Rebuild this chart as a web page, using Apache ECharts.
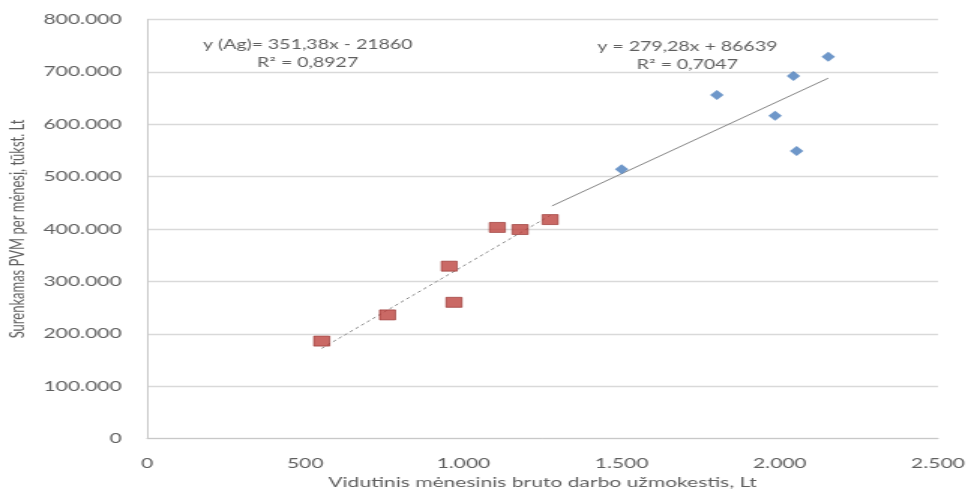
<!DOCTYPE html>
<html>
<head>
<meta charset="utf-8">
<script src="https://cdn.jsdelivr.net/npm/echarts@6/dist/echarts.min.js"></script>
<style>
  html, body { margin: 0; padding: 0; background: #fff; overflow: hidden; }
  #wrap { width: 968px; height: 490px; overflow: hidden; }
  /* the chart is laid out narrow and widened horizontally */
  #chart { width: 645px; height: 490px; transform-origin: 0 0; transform: scaleX(1.5008); }
</style>
</head>
<body>
<div id="wrap"><div id="chart"></div></div>
<script>
// Average monthly gross wage (Lt) vs. VAT collected per month (thousand Lt)
const agX = [552, 760, 955, 970, 1107, 1179, 1274];
const agY = [186000, 236000, 329000, 260000, 403000, 399000, 418000];
const otherX = [1500, 1801, 1985, 2043, 2053, 2153];
const otherY = [514000, 656000, 616000, 692000, 549000, 729000];

// linear trend lines: [slope, intercept] and x range
const agTrend = [351.38, -21860];
const agTrendRange = [552, 1274];
const otherTrend = [279.28, 86639];
const otherTrendRange = [1280, 2153];

const agLabel = ['y (Ag)= 351,38x - 21860', 'R² = 0,8927'];
const otherLabel = ['y = 279,28x + 86639', 'R² = 0,7047'];

const xTicks = { min: 0, max: 2500, step: 500 };
const yTicks = { min: 0, max: 800000, step: 100000 };

const xName = 'Vidutinis mėnesinis bruto darbo užmokestis, Lt';
const yName = 'Surenkamas PVM per mėnesį, tūkst. Lt';

const dotted = v => String(v).replace(/\B(?=(\d{3})+(?!\d))/g, '.');
const pairs = (xs, ys) => xs.map((x, i) => [x, ys[i]]);
const trend = (c, r) => r.map(x => [x, c[0] * x + c[1]]);

const FONT = 'Lato';
const GREY = '#5f5f5f';

const chart = echarts.init(document.getElementById('chart'));
chart.setOption({
  animation: false,
  backgroundColor: '#ffffff',
  grid: { left: 98, right: 20, top: 19.5, bottom: 51.5, containLabel: false, outerBoundsMode: 'none' },
  xAxis: {
    type: 'value',
    min: xTicks.min, max: xTicks.max, interval: xTicks.step,
    name: xName, nameLocation: 'middle', nameGap: 32,
    nameTextStyle: { color: GREY, fontFamily: FONT, fontSize: 14 },
    axisLine: { show: true, lineStyle: { color: '#c8c8c8', width: 1 } },
    axisTick: { show: false },
    axisLabel: { color: GREY, fontFamily: FONT, fontSize: 14, margin: 18, formatter: dotted },
    splitLine: { show: false }
  },
  yAxis: {
    type: 'value',
    min: yTicks.min, max: yTicks.max, interval: yTicks.step,
    name: yName, nameLocation: 'middle', nameGap: 80,
    nameTextStyle: { color: GREY, fontFamily: FONT, fontSize: 13 },
    axisLine: { show: true, lineStyle: { color: '#c8c8c8', width: 1 } },
    axisTick: { show: false },
    axisLabel: { color: GREY, fontFamily: FONT, fontSize: 14, margin: 17, formatter: dotted },
    splitLine: { show: true, lineStyle: { color: '#d9d9d9', width: 1.3 } }
  },
  series: [
    {
      name: 'Ag trend', type: 'line', data: trend(agTrend, agTrendRange),
      symbol: 'none', silent: true, z: 1,
      lineStyle: { color: '#858585', width: 1, type: [2.5, 2.5] }
    },
    {
      name: 'Trend', type: 'line', data: trend(otherTrend, otherTrendRange),
      symbol: 'none', silent: true, z: 1,
      lineStyle: { color: '#858585', width: 1 }
    },
    {
      name: 'Ag', type: 'scatter', data: pairs(agX, agY),
      symbol: 'rect', symbolSize: [10.5, 10], z: 3,
      itemStyle: { color: '#bd433e', borderColor: '#94302c', borderWidth: 0.8 }
    },
    {
      name: 'Kiti', type: 'scatter', data: pairs(otherX, otherY),
      symbol: 'diamond', symbolSize: [9, 10], z: 3,
      itemStyle: { color: '#4a7dbb' }
    }
  ],
  graphic: [
    { type: 'text', x: 205, y: 45, style: { text: agLabel[0], fill: GREY, font: '13px ' + FONT, align: 'center', verticalAlign: 'middle' } },
    { type: 'text', x: 205, y: 63, style: { text: agLabel[1], fill: GREY, font: '13px ' + FONT, align: 'center', verticalAlign: 'middle' } },
    { type: 'text', x: 458, y: 47, style: { text: otherLabel[0], fill: GREY, font: '13px ' + FONT, align: 'center', verticalAlign: 'middle' } },
    { type: 'text', x: 458, y: 65, style: { text: otherLabel[1], fill: GREY, font: '13px ' + FONT, align: 'center', verticalAlign: 'middle' } }
  ]
});
</script>
</body>
</html>
